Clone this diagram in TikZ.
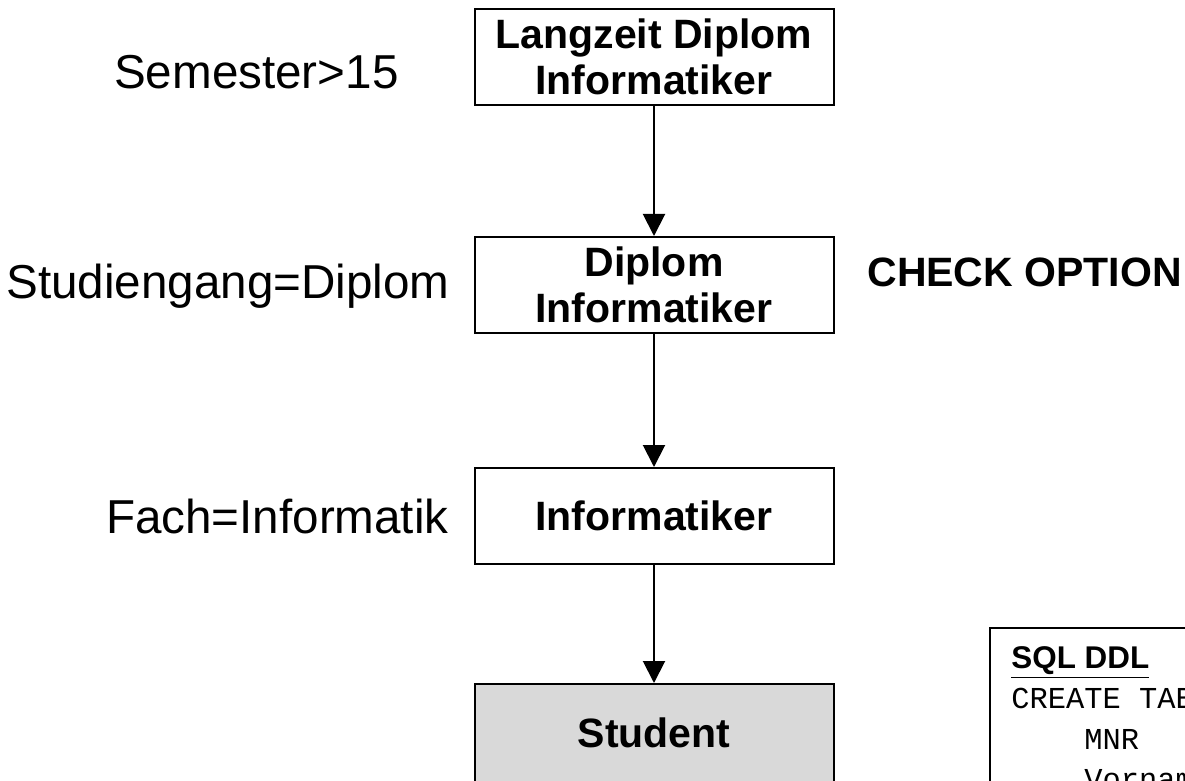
\documentclass[tikz,border=0pt]{standalone}
\usepackage{fontspec}
\setmainfont{Liberation Sans}
\setsansfont{Liberation Sans}
\setmonofont{Liberation Mono}
\usetikzlibrary{arrows.meta,calc}
\definecolor{StudentClr}{RGB}{217,217,217}

\begin{document}
\begin{tikzpicture}[x=.5pt,y=-.5pt,
  box/.style={draw=black,line width=1pt,fill=white,minimum width=179.5pt,minimum height=48pt,
    align=center,font=\fontsize{20.5}{23}\selectfont\bfseries,inner sep=0pt},
  cond/.style={font=\fontsize{23.8}{28}\selectfont,inner sep=0pt},
  isa/.style={line width=1pt,-{Triangle[length=11pt,width=11pt]}}]
\useasboundingbox (0,0) rectangle (1185,781);
\clip (0,0) rectangle (1185,781);

\node[box] (ldi) at (654,57) {Langzeit Diplom\\Informatiker};
\node[box] (di) at (654,285) {Diplom\\Informatiker};
\node[box] (inf) at (654,516) {Informatiker};
\node[box,fill=StudentClr,minimum height=49pt] (stud) at (654,733) {Student};

\draw[isa] (ldi) -- (di);
\draw[isa] (di) -- (inf);
\draw[isa] (inf) -- (stud);

\node[cond,anchor=east] (sem) at (399,72) {Semester>15};
\node[cond,anchor=east] (sg) at (450,286) {Studiengang=Diplom};
\node[cond,anchor=east] (fach) at (449,516) {Fach=Informatik};

\node[anchor=west,inner sep=0pt,font=\fontsize{20.5}{23}\selectfont\bfseries] (chk) at (867,272) {CHECK OPTION};

% SQL DDL Kasten, rechts unten abgeschnitten
\draw[line width=1pt] (990,628) rectangle (1220,820);
\node[anchor=north west,inner sep=0pt,align=left,font=\fontsize{15.2}{20.2}\selectfont\ttfamily] (ddl) at (1011,646)
  {{\sffamily\bfseries\fontsize{15.7}{20.2}\selectfont\underline{SQL DDL}}\\
   CREATE TABLE\\
   \hspace*{4\fontcharwd\font`M}MNR\\
   \hspace*{4\fontcharwd\font`M}Vorname};
\end{tikzpicture}
\end{document}
